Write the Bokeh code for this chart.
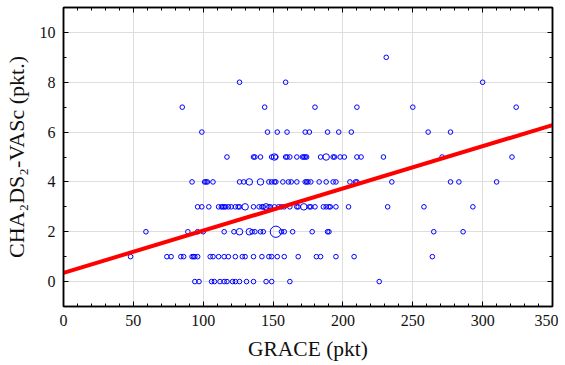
from collections import Counter
from bokeh.plotting import figure
from bokeh.models import LinearAxis, FixedTicker, Range1d, ColumnDataSource, CustomJSTickFormatter
from bokeh.embed import file_html
from bokeh.resources import INLINE

# GRACE values per CHA2DS2-VASc score (repeated values = overlapping patients)
grace_s9 = [231]
grace_s8 = [126, 159, 300]
grace_s7 = [85, 144, 180, 210, 250, 324]
grace_s6 = [99, 146, 153, 160, 173, 176, 189, 197, 206, 261, 277]
grace_s5 = [117, 136, 137, 141, 149, 151, 151, 152, 159, 160, 162, 167, 171, 172, 173, 174,
            184, 188, 188, 193, 194, 198, 201, 210, 213, 229, 271, 321]
grace_s4 = [92, 101, 102, 103, 107, 126, 129, 133, 133, 141, 141, 147, 149, 151, 152, 157,
            161, 163, 167, 173, 174, 175, 177, 183, 188, 193, 195, 205, 209, 210, 235, 277,
            283, 310]
grace_s3 = [96, 99, 104, 111, 113, 114, 115, 116, 118, 120, 123, 125, 126, 130, 130, 136,
            140, 142, 143, 145, 145, 147, 148, 151, 154, 156, 158, 162, 167, 168, 172, 172,
            176, 177, 180, 186, 188, 190, 191, 195, 204, 232, 258, 293]
grace_s2 = [59, 89, 96, 100, 115, 122, 126, 126, 133, 133, 135, 137, 141, 143,
            152, 152, 152, 152, 152, 152, 156, 158, 164, 178, 189, 190, 265, 286]
grace_s1 = [48, 74, 77, 84, 86, 92, 93, 94, 96, 105, 107, 111, 115, 118, 123, 128, 130,
            136, 142, 147, 149, 153, 158, 168, 181, 184, 195, 208, 264]
grace_s0 = [94, 97, 106, 108, 112, 115, 117, 121, 123, 126, 131, 136, 145, 149, 162, 226]

scores = [0, 1, 2, 3, 4, 5, 6, 7, 8, 9]
rows = [grace_s0, grace_s1, grace_s2, grace_s3, grace_s4, grace_s5, grace_s6,
        grace_s7, grace_s8, grace_s9]

# Regression line (GRACE -> CHA2DS2-VASc)
fit_x = [0, 350]
fit_y = [0.35, 6.28]

x_ticks = [0, 50, 100, 150, 200, 250, 300, 350]
y_ticks = [0, 2, 4, 6, 8, 10]

counts = Counter()
for s, row in zip(scores, rows):
    for g in row:
        counts[(g, s)] += 1
xs, ys, sz = [], [], []
for (g, s), n in counts.items():
    xs.append(g)
    ys.append(s)
    sz.append(4.6 * n ** 0.5)
src = ColumnDataSource(dict(x=xs, y=ys, size=sz))

FONT = "Liberation Serif"

p = figure(output_backend="svg", toolbar_location=None,
           frame_width=489, frame_height=299,
           x_range=Range1d(0, 350), y_range=Range1d(-1, 11),
           min_border_left=54, min_border_right=6, min_border_top=7, min_border_bottom=0,
           background_fill_color="white", border_fill_color="white")

p.outline_line_color = "black"
p.outline_line_width = 1.5

xt = FixedTicker(ticks=x_ticks, minor_ticks=list(range(0, 351, 10)))
yt = FixedTicker(ticks=y_ticks, minor_ticks=list(range(-1, 12)))

bottom = p.below[0]
left = p.left[0]
bottom.ticker = xt
left.ticker = yt
p.xgrid.ticker = xt
p.ygrid.ticker = yt
for g in (p.xgrid, p.ygrid):
    g.grid_line_color = "#dddddd"
    g.grid_line_width = 1

bottom.axis_label = "GRACE (pkt)"
left.axis_label = "CHA\u2082DS\u2082-VASc (pkt.)"

top = LinearAxis(ticker=xt, formatter=CustomJSTickFormatter(code="return ''"))
right = LinearAxis(ticker=yt, formatter=CustomJSTickFormatter(code="return ''"))
p.add_layout(top, "above")
p.add_layout(right, "right")
for ax in (top, right):
    ax.major_label_standoff = 0
    ax.axis_label_standoff = 0

for ax in (bottom, left, top, right):
    ax.axis_line_color = "black"
    ax.axis_line_width = 1.5
    ax.major_tick_in = 5
    ax.major_tick_out = 0
    ax.minor_tick_in = 3
    ax.minor_tick_out = 0
    ax.major_tick_line_color = "black"
    ax.minor_tick_line_color = "black"
    ax.major_label_text_font = FONT
    ax.axis_label_text_font = FONT
    ax.axis_label_text_font_style = "normal"
    ax.axis_label_text_color = "#111111"
    ax.major_label_text_color = "#111111"

for ax in (bottom, left):
    ax.major_label_text_font_size = "16px"
    ax.major_label_standoff = 8
bottom.axis_label_text_font_size = "21.5px"
bottom.axis_label_standoff = 8
left.axis_label_text_font_size = "22px"
left.axis_label_standoff = 8

p.scatter("x", "y", size="size", source=src, marker="circle",
          fill_color=None, line_color="#0000ff", line_width=1)
p.line(fit_x, fit_y, line_color="#ff0000", line_width=4)

open("out.html", "w").write(file_html(p, INLINE))
